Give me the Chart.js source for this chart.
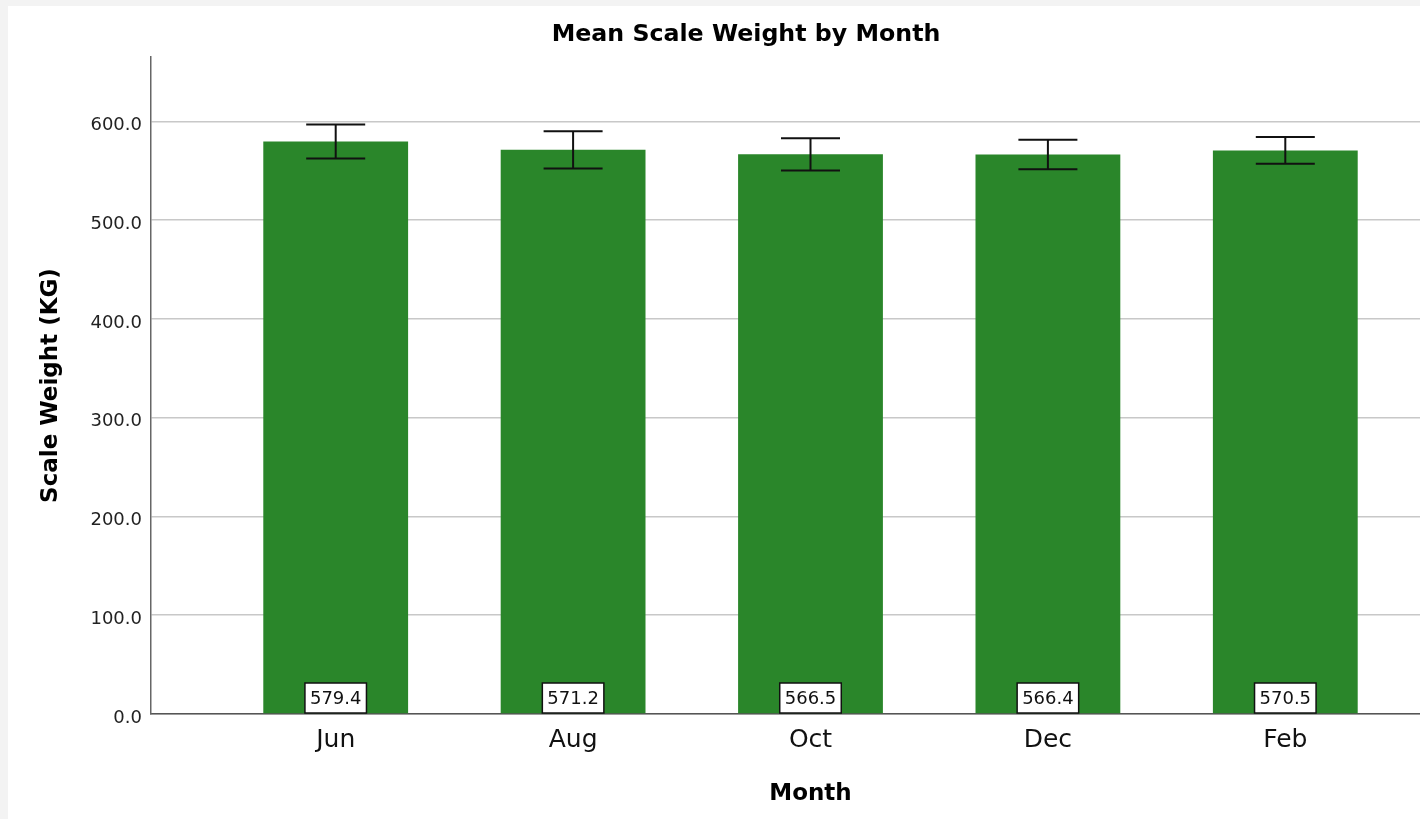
<!DOCTYPE html>
<html>
<head>
<meta charset="utf-8">
<title>Mean Scale Weight by Month</title>
<script src="https://cdn.jsdelivr.net/npm/chart.js@4.4.1/dist/chart.umd.min.js"></script>
<style>
  html, body { margin: 0; padding: 0; background: #f3f3f3; overflow: hidden; }
  #wrap { position: absolute; left: 8px; top: 6px; width: 1476px; height: 813px; background: #fff; }
</style>
</head>
<body>
<div id="wrap"><canvas id="myChart" width="1476" height="813"></canvas></div>
<script>
// data
const months = ['Jun', 'Aug', 'Oct', 'Dec', 'Feb'];
const meanWeight = [579.4, 571.2, 566.5, 566.4, 570.5];
const ciLower = [562.2, 552.2, 550.2, 551.5, 557.0];
const ciUpper = [596.6, 590.0, 582.8, 581.2, 584.0];
const yTicks = [0, 100, 200, 300, 400, 500, 600];

const FONT = "'DejaVu Sans', 'Liberation Sans', sans-serif";
const barColor = '#2a862a';

// error bars + value boxes drawn on top of the bars
const extras = {
  id: 'extras',
  afterDatasetsDraw(chart) {
    const c = chart.ctx;
    const meta = chart.getDatasetMeta(0);
    const y = chart.scales.y;
    const base = y.getPixelForValue(0);
    c.save();
    meta.data.forEach((bar, i) => {
      const x = bar.x;
      const top = y.getPixelForValue(ciUpper[i]);
      const bot = y.getPixelForValue(ciLower[i]);
      c.strokeStyle = '#111';
      c.lineWidth = 2;
      c.beginPath();
      c.moveTo(x, top); c.lineTo(x, bot);
      c.moveTo(x - 29.5, top); c.lineTo(x + 29.5, top);
      c.moveTo(x - 29.5, bot); c.lineTo(x + 29.5, bot);
      c.stroke();

      // value label box
      const txt = meanWeight[i].toFixed(1);
      c.font = '18px ' + FONT;
      const w = c.measureText(txt).width + 10;
      const h = 30;
      c.fillStyle = '#fff';
      c.fillRect(x - w / 2, base - 1 - h, w, h);
      c.lineWidth = 1.5;
      c.strokeStyle = '#111';
      c.strokeRect(x - w / 2, base - 1 - h, w, h);
      c.fillStyle = '#111';
      c.textAlign = 'center';
      c.textBaseline = 'middle';
      c.fillText(txt, x, base - 1 - h / 2 + 1);
    });
    c.restore();
  }
};

const ctx = document.getElementById('myChart');

new Chart(ctx, {
  type: 'bar',
  data: {
    datasets: [{
      data: meanWeight.map((v, i) => ({ x: i, y: v })),
      backgroundColor: barColor,
      borderWidth: 0,
      barPercentage: 0.61,
      categoryPercentage: 1.0
    }]
  },
  options: {
    responsive: false,
    animation: false,
    devicePixelRatio: 1,
    layout: { padding: { left: 14, right: 14, top: 0, bottom: 0 } },
    plugins: {
      legend: { display: false },
      tooltip: { enabled: false },
      title: {
        display: true,
        text: 'Mean Scale Weight by Month',
        color: '#000',
        font: { family: FONT, size: 23.7, weight: 'bold' },
        padding: { top: 15, bottom: 7.6 }
      }
    },
    scales: {
      x: {
        type: 'linear',
        offset: false,
        min: -0.778,
        max: 4.778,
        grid: { display: false, drawTicks: false },
        border: { color: '#555', width: 1.5 },
        afterBuildTicks: s => { s.ticks = months.map((m, i) => ({ value: i })); },
        afterFit: s => { s.height = 105; },
        ticks: {
          padding: 11,
          color: '#111',
          font: { family: FONT, size: 25 },
          callback: v => months[v]
        },
        title: {
          display: true,
          text: 'Month',
          color: '#000',
          font: { family: FONT, size: 23, weight: 'bold' },
          padding: { top: 0, bottom: 11 }
        }
      },
      y: {
        min: 0,
        max: 665,
        grid: { color: '#c8c8c8', lineWidth: 1.5, drawTicks: false },
        border: { color: '#666', width: 1.5 },
        afterBuildTicks: s => { s.ticks = yTicks.map(v => ({ value: v })); },
        afterFit: s => { s.width = 129; },
        ticks: {
          padding: 9,
          labelOffset: 4,
          color: '#222',
          font: { family: FONT, size: 18 },
          callback: v => Number(v).toFixed(1)
        },
        title: {
          display: true,
          text: 'Scale Weight (KG)',
          color: '#000',
          font: { family: FONT, size: 23, weight: 'bold' },
          padding: { top: 15, bottom: 0 }
        }
      }
    }
  },
  plugins: [extras]
});
</script>
</body>
</html>
